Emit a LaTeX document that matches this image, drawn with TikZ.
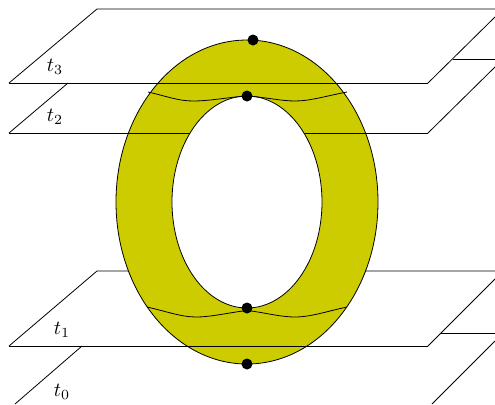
\documentclass[tikz,border=0pt]{standalone}
\usepackage{tikz}
\definecolor{ringfill}{HTML}{CCCC00}

\begin{document}
\begin{tikzpicture}[
    x=0.5pt, y=-0.5pt,
    dot/.style={circle, fill=black, inner sep=0pt, minimum size=5.5pt}
]
    \useasboundingbox (0,0) rectangle (495,404);
    % planes behind the ring
    \draw (495,9) -- (97,9) -- (9,83);
    \draw (495,17) -- (428,83);
    \draw (495,59) -- (453,59);
    \draw (68,83) -- (9,133);
    \draw (495,67) -- (428,133);
    \draw (495,271) -- (97,271) -- (9,346);
    \draw (495,279) -- (428,346);
    \draw (495,333) -- (440,333);
    \draw (82,346) -- (15,404);
    \draw (495,341) -- (432,404);
    % ring
    \draw[fill=ringfill] (247,202) ellipse [x radius=131, y radius=162];
    \draw[fill=white] (247,202) ellipse [x radius=75, y radius=106];
    % front edges over the ring
    \draw (9,83) -- (428,83);
    \draw (9,133) -- (190,133);
    \draw (304,133) -- (428,133);
    \draw (9,346) -- (428,346);
    % curves
    \draw (148,92) .. controls (166,96) and (178,101) .. (193,101)
        .. controls (210,101) and (230,97) .. (247,96)
        .. controls (264,97) and (281,101) .. (295,101)
        .. controls (310,101) and (326,96) .. (347,92);
    \draw (147,307) .. controls (165,311) and (181,317) .. (196,317)
        .. controls (212,317) and (232,312) .. (247,310.5)
        .. controls (262,312) and (280,317) .. (295,317)
        .. controls (311,317) and (328,311) .. (347,307);
    \node[dot] (top) at (253,40) {};
    \node[dot] (upper) at (247,96) {};
    \node[dot] (lower) at (247,308) {};
    \node[dot] (bottom) at (247,364) {};
    \node (t3) at (55,67) {$t_3$};
    \node (t2) at (55,117) {$t_2$};
    \node (t1) at (62,330) {$t_1$};
    \node (t0) at (62,392) {$t_0$};
\end{tikzpicture}
\end{document}
